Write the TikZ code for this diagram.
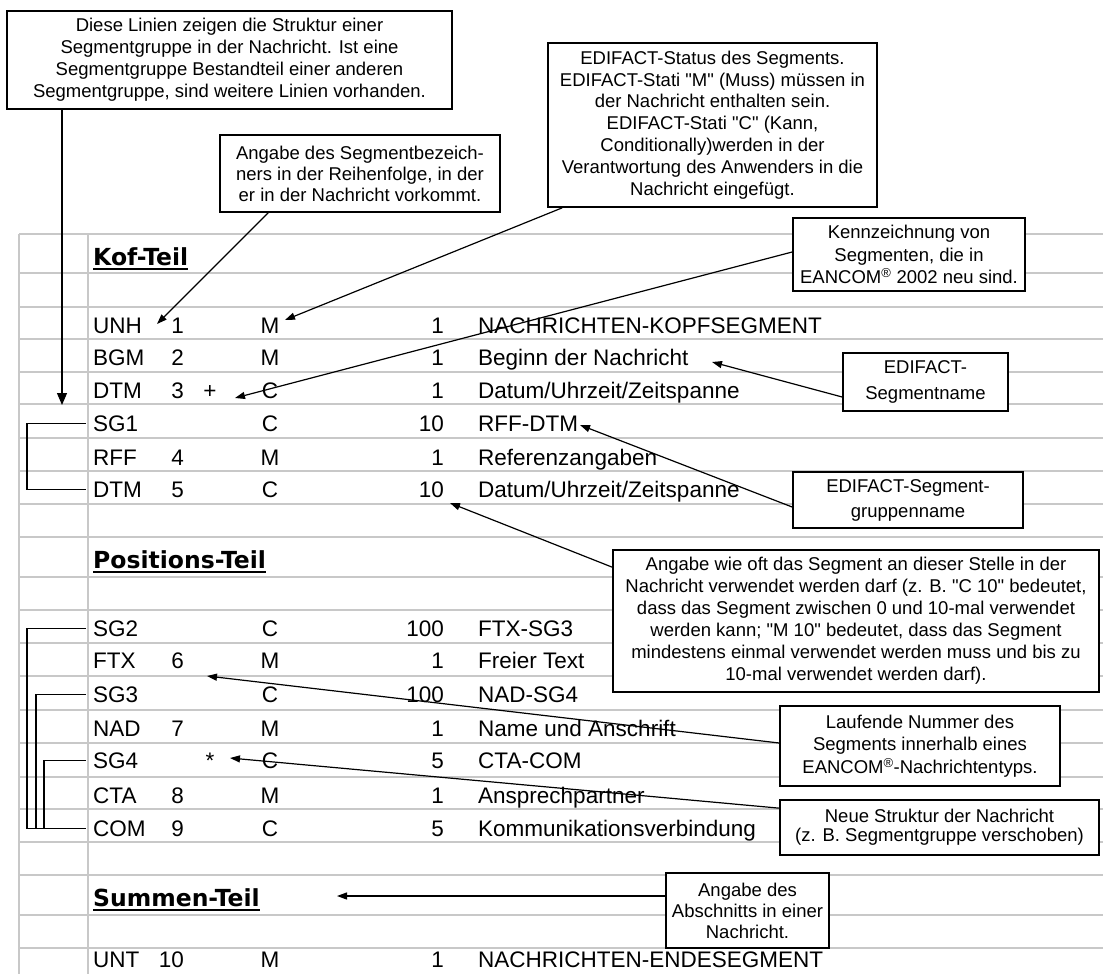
\documentclass[tikz,border=0pt]{standalone}
\usepackage{fontspec}
\setmainfont{Liberation Sans}
\newfontfamily\nf{Liberation Sans}
\newfontfamily\headfont{DejaVu Sans}
\usetikzlibrary{arrows.meta}
\definecolor{gridgray}{RGB}{200,200,200}
\newcommand\segrow[7]{%
  \node[cell] (#1tag) at (93,#2) {#3};
  \node[cellr] (#1pos) at (184,#2) {#4};
  \node[cellc] (#1st) at (270,#2) {#5};
  \node[cellr] (#1rep) at (444,#2) {#6};
  \node[cell] (#1nm) at (478,#2) {#7};
}
\newcommand\grprow[6]{%
  \node[cell] (#1tag) at (93,#2) {#3};
  \node[cellc] (#1st) at (270,#2) {#4};
  \node[cellr] (#1rep) at (444,#2) {#5};
  \node[cell] (#1nm) at (478,#2) {#6};
}
\begin{document}
\begin{tikzpicture}[x=1pt,y=-1pt,
  gridline/.style={gridgray,line width=1.5pt},
  cell/.style={inner sep=0pt,anchor=base west,font=\fontsize{22.5}{27}\selectfont},
  cellr/.style={cell,anchor=base east},
  cellc/.style={cell,anchor=base},
  head/.style={inner sep=0pt,anchor=base west,font=\headfont\bfseries\fontsize{23.5}{28}\selectfont},
  note/.style={draw,line width=1.7pt,fill=white,inner sep=0pt,align=center,font=\nf\fontsize{18.5}{22}\selectfont},
  conn/.style={line width=1.2pt,-{Triangle[length=10pt,width=7pt]}},
  bracket/.style={line width=1.5pt},
]
\useasboundingbox[fill=white] (0,0) rectangle (1103,974);

% spreadsheet grid
\foreach \y in {234,273,307,339,372,404,438,471,504,537,577,610,643,676,710,743,777,809,842,875,915,948}
  \draw[gridline] (19,\y) -- (1103,\y);
\draw[gridline] (19,234) -- (19,974);
\draw[gridline] (88,234) -- (88,974);

% section headings
\node[head] (kof) at (93,265) {Kof-Teil};
\node[head] (pos) at (93,568) {Positions-Teil};
\node[head] (sum) at (93,906) {Summen-Teil};
\foreach \h in {kof,pos,sum}
  \draw[line width=2pt] ([yshift=-3.5pt]\h.base west) -- ([yshift=-3.5pt]\h.base east);

% rows
\segrow{unh}{333}{UNH}{1}{M}{1}{NACHRICHTEN-KOPFSEGMENT}
\segrow{bgm}{365}{BGM}{2}{M}{1}{Beginn der Nachricht}
\segrow{dtma}{398}{DTM}{3}{C}{1}{Datum/Uhrzeit/Zeitspanne}
\node[cellc] (plus) at (210,398) {+};
\grprow{sga}{431}{SG1}{C}{10}{RFF-DTM}
\segrow{rff}{465}{RFF}{4}{M}{1}{Referenzangaben}
\segrow{dtmb}{497}{DTM}{5}{C}{10}{Datum/Uhrzeit/Zeitspanne}
\grprow{sgb}{636}{SG2}{C}{100}{FTX-SG3}
\segrow{ftx}{668}{FTX}{6}{M}{1}{Freier Text}
\grprow{sgc}{702}{SG3}{C}{100}{NAD-SG4}
\segrow{nad}{736}{NAD}{7}{M}{1}{Name und Anschrift}
\grprow{sgd}{768}{SG4}{C}{5}{CTA-COM}
\node[cellc] (star) at (210,768) {*};
\segrow{cta}{803}{CTA}{8}{M}{1}{Ansprechpartner}
\segrow{com}{836}{COM}{9}{C}{5}{Kommunikationsverbindung}
\segrow{unt}{967}{UNT}{10}{M}{1}{NACHRICHTEN-ENDESEGMENT}

% group brackets
\draw[bracket] ([xshift=-7pt]sgatag.west) -| ([xshift=-66pt]dtmbtag.west) -- ([xshift=-7pt]dtmbtag.west);
\draw[bracket] ([xshift=-7pt]sgbtag.west) -| ([xshift=-66pt]comtag.west) -- ([xshift=-7pt]comtag.west);
\draw[bracket] ([xshift=-7pt]sgctag.west) -| ([xshift=-57pt]comtag.west);
\draw[bracket] ([xshift=-7pt]sgdtag.west) -| ([xshift=-49pt]comtag.west);

% annotation boxes
\node[note,minimum width=445pt,minimum height=98pt] (b1) at (229.5,60)
  {Diese Linien zeigen die Struktur einer\\Segmentgruppe in der Nachricht. Ist eine\\Segmentgruppe Bestandteil einer anderen\\Segmentgruppe, sind weitere Linien vorhanden.};
\node[note,minimum width=280pt,minimum height=77pt,font=\nf\fontsize{18.5}{21}\selectfont] (b2) at (360,173.5)
  {Angabe des Segmentbezeich-\\ners in der Reihenfolge, in der\\er in der Nachricht vorkommt.};
\node[note,minimum width=329pt,minimum height=164pt,font=\nf\fontsize{18.5}{21.8}\selectfont] (b3) at (712.5,125)
  {EDIFACT-Status des Segments.\\EDIFACT-Stati "M" (Muss) müssen in\\der Nachricht enthalten sein.\\EDIFACT-Stati "C" (Kann,\\Conditionally)werden in der\\Verantwortung des Anwenders in die\\Nachricht eingefügt.};
\node[note,minimum width=232pt,minimum height=73pt,font=\nf\fontsize{18.5}{22.5}\selectfont] (b4) at (909,254.5)
  {Kennzeichnung von\\Segmenten, die in\\EANCOM\textsuperscript{®} 2002 neu sind.};
\node[note,minimum width=165pt,minimum height=58pt,font=\nf\fontsize{18.5}{26}\selectfont] (b5) at (925.5,382)
  {EDIFACT-\\Segmentname};
\node[note,minimum width=230pt,minimum height=56pt,font=\nf\fontsize{18.5}{25}\selectfont] (b6) at (908,500)
  {EDIFACT-Segment-\\gruppenname};
\node[note,minimum width=486pt,minimum height=142pt] (b7) at (856,621)
  {Angabe wie oft das Segment an dieser Stelle in der\\Nachricht verwendet werden darf (z. B. "C 10" bedeutet,\\dass das Segment zwischen 0 und 10-mal verwendet\\werden kann; "M 10" bedeutet, dass das Segment\\mindestens einmal verwendet werden muss und bis zu\\10-mal verwendet werden darf).};
\node[note,minimum width=280pt,minimum height=80pt,font=\nf\fontsize{18.5}{22.5}\selectfont] (b8) at (920,746)
  {Laufende Nummer des\\Segments innerhalb eines\\EANCOM\textsuperscript{®}-Nachrichtentyps.};
\node[note,minimum width=319pt,minimum height=55pt,font=\nf\fontsize{18.5}{19}\selectfont] (b9) at (939.5,827.5)
  {Neue Struktur der Nachricht\\(z. B. Segmentgruppe verschoben)};
\node[note,minimum width=163pt,minimum height=75pt,font=\nf\fontsize{18.5}{21}\selectfont] (b10) at (747.5,910.5)
  {Angabe des\\Abschnitts in einer\\Nachricht.};

% arrow targets
\coordinate (t1) at (62,405);
\coordinate (t2) at (157,324);
\coordinate (t3) at (285,320);
\coordinate (t4) at (235,398);
\coordinate (t5) at (712,362);
\coordinate (t6) at (580,425);
\coordinate (t7) at (450,503);
\coordinate (t8) at (207,676);
\coordinate (t9) at (230,758);
\coordinate (t10) at (337,896);

% connectors
\draw[conn,-{Triangle[length=12pt,width=10pt]}] (t1 |- b1.south) -- (t1);
\draw[conn] ([xshift=49pt]b2.south west) -- (t2);
\draw[conn] ([xshift=15pt]b3.south west) -- (t3);
\draw[conn] ([yshift=2.5pt]b4.west) -- (t4);
\draw[conn] ([yshift=-15pt]b5.west) -- (t5);
\draw[conn] ([yshift=-7pt]b6.west) -- (t6);
\draw[conn] ([yshift=-18pt]b7.north west) -- (t7);
\draw[conn] ([yshift=3pt]b8.west) -- (t8);
\draw[conn] ([yshift=-9pt]b9.north west) -- (t9);
\draw[conn] ([yshift=14.5pt]b10.west) -- (t10);
\end{tikzpicture}
\end{document}
